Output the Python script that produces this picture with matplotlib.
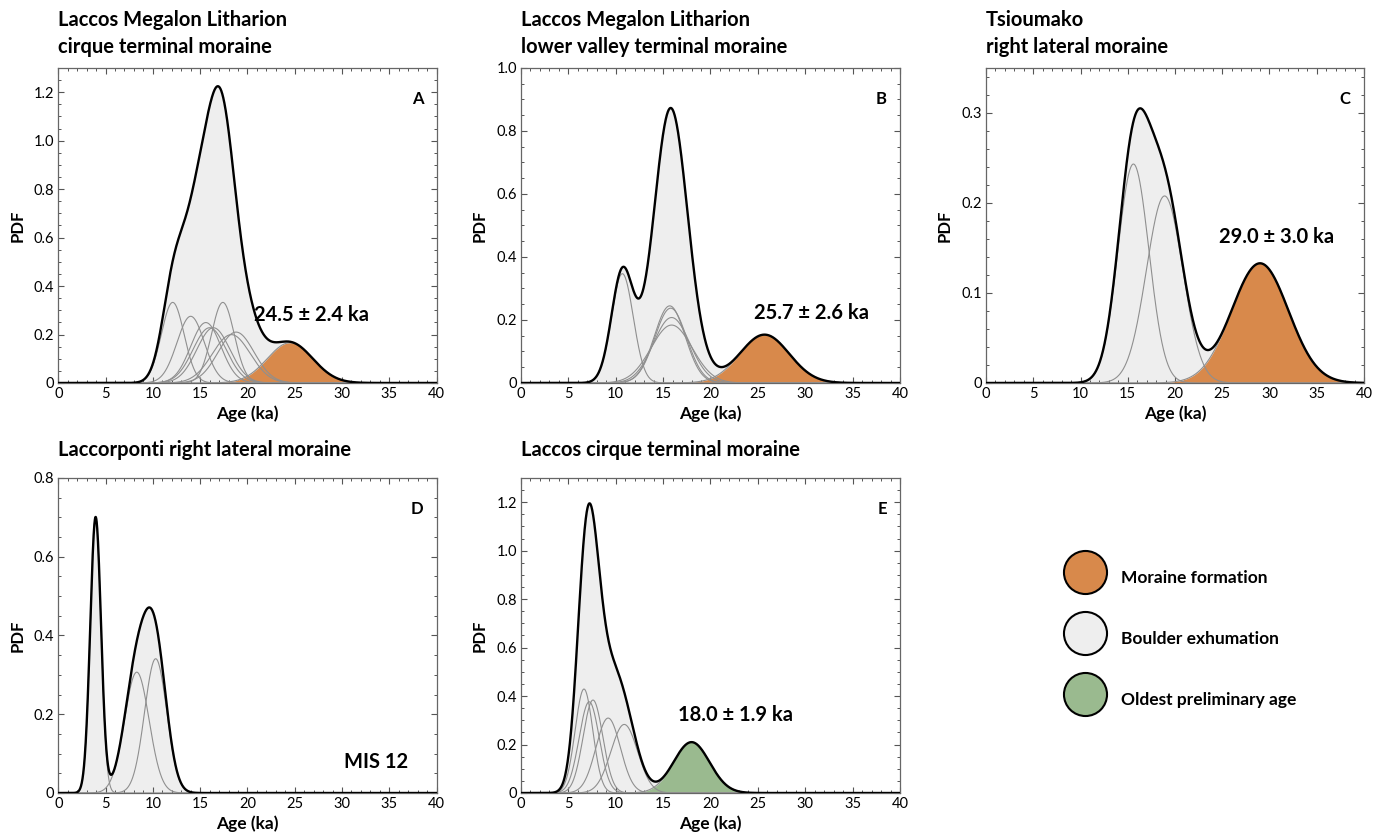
import numpy as np
import matplotlib
matplotlib.use("Agg")
import matplotlib.pyplot as plt
from matplotlib.ticker import MultipleLocator, FuncFormatter
from matplotlib.lines import Line2D

plt.rcParams['font.family'] = ['Lato', 'DejaVu Sans']

# boulder exposure ages (ka) and 1-sigma errors, per moraine
ages_a = [12.1, 14.0, 15.6, 16.0, 16.4, 17.4, 18.3, 18.8]
errs_a = [1.2, 1.45, 1.6, 1.75, 1.75, 1.2, 2.0, 1.9]
ages_b = [10.7, 15.7, 15.8, 15.9, 15.9]
errs_b = [1.15, 1.63, 1.68, 1.92, 2.17]
ages_c = [15.6, 18.9]
errs_c = [1.64, 1.92]
ages_d = [3.95, 8.3, 10.3]
errs_d = [0.57, 1.3, 1.17]
ages_e = [6.65, 7.2, 7.6, 9.2, 10.9]
errs_e = [0.93, 1.06, 1.04, 1.29, 1.41]

# moraine formation / oldest preliminary age (ka, 1-sigma)
moraine_age = [24.5, 25.7, 29.0, None, 18.0]
moraine_err = [2.4, 2.6, 3.0, None, 1.9]

titles = ["Laccos Megalon Litharion\ncirque terminal moraine",
          "Laccos Megalon Litharion\nlower valley terminal moraine",
          "Tsioumako\nright lateral moraine",
          "Laccorponti right lateral moraine",
          "Laccos cirque terminal moraine"]
letters = ["A", "B", "C", "D", "E"]
ylims = [1.3, 1.0, 0.35, 0.8, 1.3]
ymajor = [0.2, 0.2, 0.1, 0.2, 0.2]
yminor = [0.05, 0.05, 0.02, 0.05, 0.05]

ORANGE = '#d8894b'
GREEN = '#9aba8f'
GREY = '#eeeeee'
LINE_GREY = '#8f8f8f'


def gauss(x, mu, s):
    return np.exp(-0.5 * ((x - mu) / s) ** 2) / (s * np.sqrt(2 * np.pi))


fig = plt.figure(figsize=(13.87, 8.38), dpi=100)
boxes = [(0.0420, 0.5430, 0.2728, 0.3759),
         (0.3756, 0.5430, 0.2733, 0.3759),
         (0.7109, 0.5430, 0.2725, 0.3759),
         (0.0420, 0.0537, 0.2728, 0.3759),
         (0.3756, 0.0537, 0.2733, 0.3759)]

all_ages = [ages_a, ages_b, ages_c, ages_d, ages_e]
all_errs = [errs_a, errs_b, errs_c, errs_d, errs_e]
fills = [ORANGE, ORANGE, ORANGE, None, GREEN]
labels = ["24.5 \u00b1 2.4 ka", "25.7 \u00b1 2.6 ka", "29.0 \u00b1 3.0 ka", "MIS 12", "18.0 \u00b1 1.9 ka"]
label_xy = [(26.8, 0.28), (30.7, 0.222), (30.8, 0.162), (33.6, 0.079), (22.6, 0.32)]

x = np.linspace(0, 40, 2001)
for i in range(5):
    ax = fig.add_axes(boxes[i])
    singles = [gauss(x, a, s) for a, s in zip(all_ages[i], all_errs[i])]
    total = np.sum(singles, axis=0)
    mor = None
    if moraine_age[i] is not None:
        mor = gauss(x, moraine_age[i], moraine_err[i])
        total = total + mor
    ax.fill_between(x, 0, total, color=GREY, lw=0, zorder=1)
    if mor is not None:
        ax.fill_between(x, 0, mor, color=fills[i], lw=0, zorder=2)
        ax.plot(x, mor, color=LINE_GREY, lw=0.8, zorder=3)
    for y in singles:
        ax.plot(x, y, color=LINE_GREY, lw=0.8, zorder=3)
    ax.plot(x, total, color='black', lw=1.7, zorder=4)

    ax.set_xlim(0, 40)
    ax.set_ylim(0, ylims[i])
    ax.xaxis.set_major_locator(MultipleLocator(5))
    ax.xaxis.set_minor_locator(MultipleLocator(1))
    ax.yaxis.set_major_locator(MultipleLocator(ymajor[i]))
    ax.yaxis.set_minor_locator(MultipleLocator(yminor[i]))
    ax.yaxis.set_major_formatter(FuncFormatter(lambda v, p: '0' if abs(v) < 1e-9 else f'{v:.1f}'))
    ax.tick_params(which='both', direction='in', top=True, right=True, labelsize=10.5, pad=3)
    ax.tick_params(which='major', length=4, width=0.8, color='#555555')
    ax.tick_params(which='minor', length=2.5, width=0.7, color='#555555')
    for sp in ax.spines.values():
        sp.set_color('#666666')
        sp.set_linewidth(0.9)
    ax.set_xlabel("Age (ka)", fontsize=12.5, fontweight='bold', labelpad=3)
    ax.set_ylabel("PDF", fontsize=12, fontweight='bold', labelpad=6)
    ax.set_title(titles[i], loc='left', fontsize=14.5, fontweight='bold',
                 pad=11 if '\n' in titles[i] else 16, linespacing=1.42)
    ax.text(0.965, 0.9, letters[i], transform=ax.transAxes, ha='right', va='center',
            fontsize=12, fontweight='bold')
    ax.text(label_xy[i][0], label_xy[i][1], labels[i], ha='center', va='center',
            fontsize=14.5, fontweight='bold')

handles = [Line2D([], [], marker='o', ls='none', ms=31, mfc=c, mec='black', mew=1.5)
           for c in [ORANGE, GREY, GREEN]]
fig.legend(handles, ["Moraine formation", "Boulder exhumation", "Oldest preliminary age"],
           loc='upper left', bbox_to_anchor=(0.756, 0.350), frameon=False,
           prop={'weight': 'bold', 'size': 12.5},
           handlelength=2.4, handleheight=2.8, labelspacing=1.45, handletextpad=0.9)

fig.savefig("out.png", dpi=100)
